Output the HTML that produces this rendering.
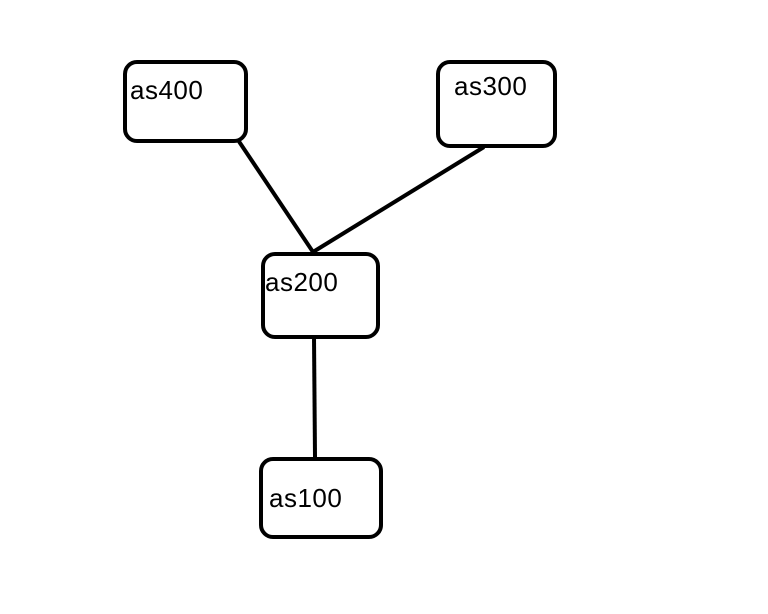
<!DOCTYPE html>
<html><head><style>
html,body{margin:0;padding:0;background:#fff;width:768px;height:614px;overflow:hidden}
</style></head><body>
<svg width="768" height="614" xmlns="http://www.w3.org/2000/svg" style="display:block">
<g fill="none" stroke="#000" stroke-width="4">
<line x1="238" y1="140" x2="313" y2="252"/>
<line x1="484" y1="147" x2="313" y2="252"/>
<line x1="314" y1="337" x2="315" y2="457"/>
<rect x="125" y="62" width="121" height="79" rx="12"/>
<rect x="438" y="62" width="117" height="84" rx="12"/>
<rect x="263" y="254" width="115" height="83" rx="12"/>
<rect x="261" y="459" width="120" height="78" rx="12"/>
</g>
<g font-family="Liberation Sans, Arial, sans-serif" font-size="26" fill="#000" letter-spacing="0.5">
<text x="130" y="99">as400</text>
<text x="454" y="95">as300</text>
<text x="265" y="291">as200</text>
<text x="269" y="507">as100</text>
</g>
</svg>
</body></html>
